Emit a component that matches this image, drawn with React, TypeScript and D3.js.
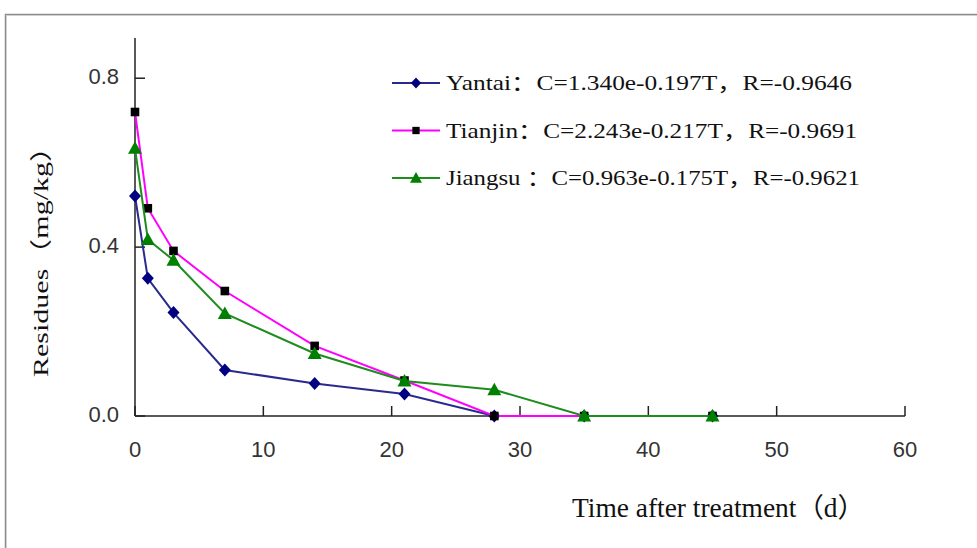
import React from "react";
import * as d3 from "d3";

const days = [0, 1, 3, 7, 14, 21, 28, 35, 45];
const yantai = [0.521, 0.326, 0.245, 0.109, 0.077, 0.052, 0.0, 0.0, 0.0];
const tianjin = [0.72, 0.492, 0.391, 0.296, 0.166, 0.084, 0.0, 0.0, 0.0];
const jiangsu = [0.634, 0.418, 0.369, 0.243, 0.148, 0.083, 0.062, 0.0, 0.0];
const xTicks = [0, 10, 20, 30, 40, 50, 60];
const yTicks = [0, 0.4, 0.8];
const legendLabels = [
  "Yantai：C=1.340e-0.197T，R=-0.9646",
  "Tianjin：C=2.243e-0.217T，R=-0.9691",
  "Jiangsu ：C=0.963e-0.175T，R=-0.9621",
];

const W = 977;
const H = 548;
const x = d3.scaleLinear().domain([0, 60]).range([135, 905]);
const y = d3.scaleLinear().domain([0, 0.9]).range([416, 36]);

type Shape = "diamond" | "square" | "triangle";

function markerPath(shape: Shape, cx: number, cy: number, s: number) {
  if (shape === "diamond") {
    const hw = 6 * s, hh = 6.5 * s;
    return `M${cx},${cy - hh}L${cx + hw},${cy}L${cx},${cy + hh}L${cx - hw},${cy}Z`;
  }
  if (shape === "square") {
    const h = 4.3 * s;
    return `M${cx - h},${cy - h}H${cx + h}V${cy + h}H${cx - h}Z`;
  }
  const hw = 7 * s, up = 7 * s, dn = 5.5 * s;
  return `M${cx},${cy - up}L${cx + hw},${cy + dn}L${cx - hw},${cy + dn}Z`;
}

const series = [
  { name: "Yantai", values: yantai, line: "#2a2a8e", marker: "#000080", shape: "diamond" as Shape },
  { name: "Tianjin", values: tianjin, line: "#ff00ff", marker: "#000000", shape: "square" as Shape },
  { name: "Jiangsu", values: jiangsu, line: "#1e8c1e", marker: "#008000", shape: "triangle" as Shape },
];

const legendWidths = [406, 411, 414];

export default function App() {
  const line = d3
    .line<number>()
    .x((_, i) => x(days[i]))
    .y((d) => y(d));
  const serif = "'Liberation Serif', 'Times New Roman', 'Noto Sans CJK SC', serif";
  const sans = "'Liberation Sans', Arial, sans-serif";
  return (
    <svg
      width={W}
      height={H}
      style={{ position: "absolute", left: 0, top: 0, background: "#fff" }}
    >
      <rect x={0} y={0} width={W} height={H} fill="#fff" />
      {/* frame */}
      <path d={`M5.5,${H}V14.5H${W}`} fill="none" stroke="#8c8c8c" strokeWidth={1.5} />
      <path d={`M6.5,${H}V15.5H${W}`} fill="none" stroke="#d0d0d0" strokeWidth={1} />

      {/* axes */}
      <line x1={x(0)} x2={x(0)} y1={y(0.895)} y2={y(0)} stroke="#222" strokeWidth={1.5} />
      <line x1={x(0)} x2={x(60)} y1={y(0)} y2={y(0)} stroke="#222" strokeWidth={1.5} />
      {xTicks.map((t) => (
        <g key={"xt" + t}>
          <line x1={x(t)} x2={x(t)} y1={y(0)} y2={y(0) - 10} stroke="#222" strokeWidth={1.5} />
          <text
            x={x(t)}
            y={y(0) + 35}
            textAnchor="middle"
            dominantBaseline="middle"
            fontFamily={sans}
            fontSize={22}
            fill="#333"
          >
            {t}
          </text>
        </g>
      ))}
      {yTicks.map((t) => (
        <g key={"yt" + t}>
          <line x1={x(0)} x2={x(0) + 10} y1={y(t)} y2={y(t)} stroke="#222" strokeWidth={1.5} />
          <text
            x={119}
            y={y(t)}
            textAnchor="end"
            dominantBaseline="middle"
            fontFamily={sans}
            fontSize={22}
            fill="#333"
          >
            {t.toFixed(1)}
          </text>
        </g>
      ))}

      {/* series */}
      {series.map((s) => (
        <g key={s.name}>
          <path d={line(s.values) || ""} fill="none" stroke={s.line} strokeWidth={2} />
          {s.values.map((v, i) => (
            <path key={i} d={markerPath(s.shape, x(days[i]), y(v), 1)} fill={s.marker} />
          ))}
        </g>
      ))}

      {/* legend */}
      {series.map((s, i) => {
        const cy = 83 + i * 47.5;
        return (
          <g key={"lg" + s.name}>
            <line x1={392} x2={440} y1={cy} y2={cy} stroke={s.line} strokeWidth={2} />
            <path d={markerPath(s.shape, 416, cy, 0.85)} fill={s.marker} />
            <text
              x={446}
              y={cy + 7}
              fontFamily={serif}
              fontSize={21}
              fill="#111"
              textLength={legendWidths[i]}
              lengthAdjust="spacingAndGlyphs"
            >
              {legendLabels[i]}
            </text>
          </g>
        );
      })}

      {/* axis titles */}
      <text
        x={572}
        y={517}
        fontFamily={serif}
        fontSize={27}
        fill="#111"
        textLength={293}
        lengthAdjust="spacingAndGlyphs"
      >
        Time after treatment（d）
      </text>
      <text
        transform="translate(48,377) rotate(-90)"
        x={0}
        y={0}
        fontFamily={serif}
        fontSize={22}
        fill="#111"
        textLength={245}
        lengthAdjust="spacingAndGlyphs"
      >
        Residues（mg/kg）
      </text>
    </svg>
  );
}
